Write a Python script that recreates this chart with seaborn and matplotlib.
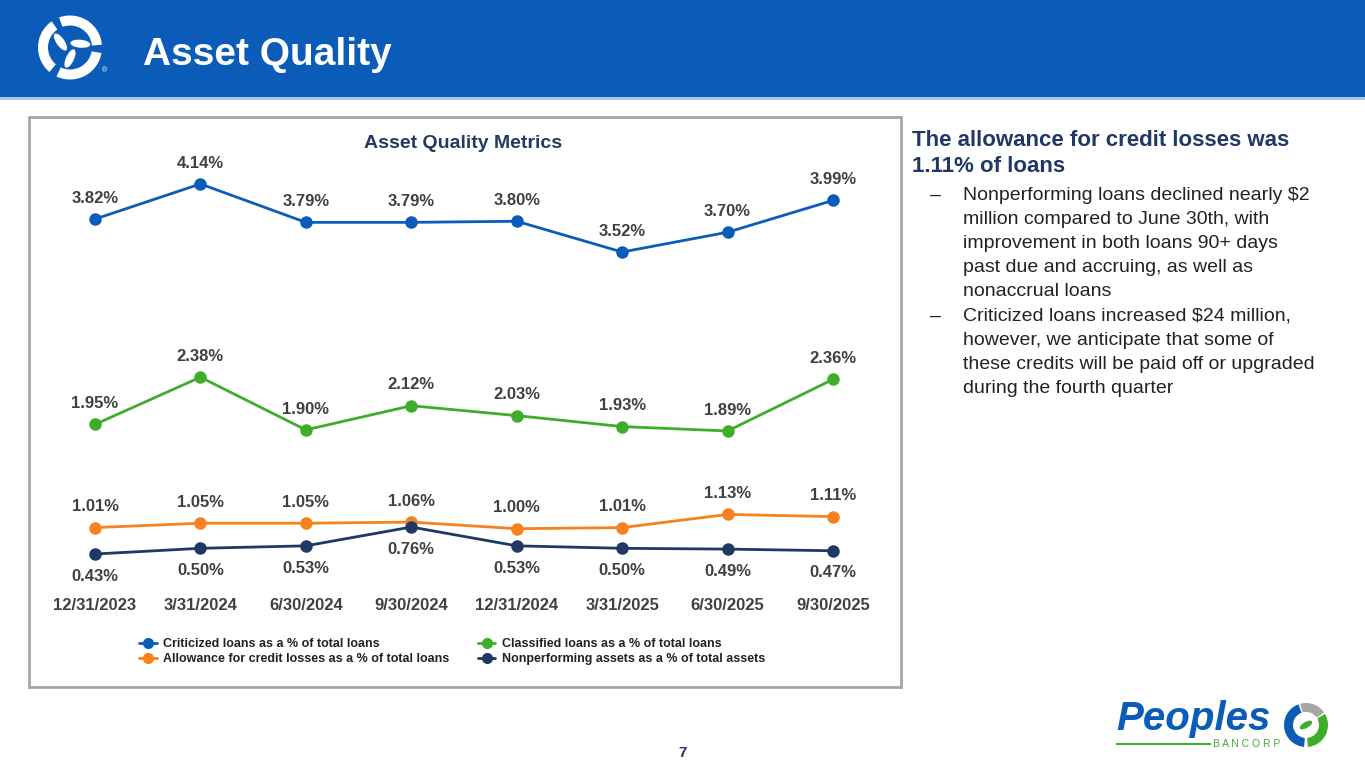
import numpy as np
import pandas as pd
import matplotlib
matplotlib.use("Agg")
import matplotlib.pyplot as plt
import matplotlib.patches as mpatches
from matplotlib.lines import Line2D
import seaborn as sns

# ----------------------------
# Data
# ----------------------------
quarters = ["12/31/2023", "3/31/2024", "6/30/2024", "9/30/2024",
            "12/31/2024", "3/31/2025", "6/30/2025", "9/30/2025"]
criticized = [3.82, 4.14, 3.79, 3.79, 3.80, 3.52, 3.70, 3.99]
classified = [1.95, 2.38, 1.90, 2.12, 2.03, 1.93, 1.89, 2.36]
allowance = [1.01, 1.05, 1.05, 1.06, 1.00, 1.01, 1.13, 1.11]
nonperforming = [0.43, 0.50, 0.53, 0.76, 0.53, 0.50, 0.49, 0.47]

series_names = ["Criticized loans as a % of total loans",
                "Classified loans as a % of total loans",
                "Allowance for credit losses as a % of total loans",
                "Nonperforming assets as a % of total assets"]
series_colors = ["#0A5CBA", "#3EAD2C", "#F5821F", "#1F3864"]

heading = ["The allowance for credit losses was", "1.11% of loans"]
bullets = [["Nonperforming loans declined nearly $2",
            "million compared to June 30th, with",
            "improvement in both loans 90+ days",
            "past due and accruing, as well as",
            "nonaccrual loans"],
           ["Criticized loans increased $24 million,",
            "however, we anticipate that some of",
            "these credits will be paid off or upgraded",
            "during the fourth quarter"]]

# ----------------------------
# Style
# ----------------------------
sns.set_theme(style="white")
plt.rcParams['font.family'] = ['Liberation Sans', 'DejaVu Sans']

W, H = 1365, 768
fig = plt.figure(figsize=(W / 100, H / 100), dpi=100)
fig.patch.set_facecolor("white")

# background axes in pixel coordinates
bg = fig.add_axes([0, 0, 1, 1])
bg.set_xlim(0, W)
bg.set_ylim(H, 0)
bg.axis("off")

# header band
bg.add_patch(mpatches.Rectangle((0, 0), W, 97, color="#0A5CB8", lw=0))
bg.add_patch(mpatches.Rectangle((0, 97), W, 3, color="#A8C6E6", lw=0))
bg.text(143, 55, "Asset Quality", color="white", fontsize=28,
        fontweight="bold", va="center", ha="left")

# top-left logo (approximation: three ring segments + three leaves)
cx0, cy0 = 70, 47.5
for start in [10, 130, 250]:
    bg.add_patch(mpatches.Wedge((cx0, cy0), 32, start, start + 105, width=10,
                                color="white", lw=0))
for ang in [150, 270, 20]:
    r = np.deg2rad(ang)
    cx, cy = cx0 + 11 * np.cos(r), cy0 - 11 * np.sin(r)
    bg.add_patch(mpatches.Ellipse((cx, cy), 20, 8, angle=-ang + 25,
                                  color="white", lw=0))
bg.text(105, 71, "®", color="white", fontsize=5, ha="center", va="center")

# chart frame
bg.add_patch(mpatches.Rectangle((29, 117), 872, 570, fill=False,
                                 edgecolor="#A6A6A6", lw=2))
bg.text(463, 143, "Asset Quality Metrics", color="#243A5E", fontsize=14,
        fontweight="bold", ha="center", va="center")

# ----------------------------
# Chart
# ----------------------------
left, right, top, bottom = 60, 870, 150, 590
ax = fig.add_axes([left / W, 1 - bottom / H, (right - left) / W, (bottom - top) / H])
ax.patch.set_alpha(0)
ax2 = ax.twinx()

pos = np.arange(len(quarters))
df = pd.DataFrame({"pos": np.tile(pos, 3),
                   "value": criticized + classified + allowance,
                   "series": np.repeat(series_names[:3], len(quarters))})
df_npa = pd.DataFrame({"pos": pos, "value": nonperforming})

sns.lineplot(data=df, x="pos", y="value", hue="series",
             palette=dict(zip(series_names[:3], series_colors[:3])),
             marker="o", markersize=9, markeredgewidth=0, linewidth=2,
             ax=ax, legend=False)
sns.lineplot(data=df_npa, x="pos", y="value", color=series_colors[3],
             marker="o", markersize=9, markeredgewidth=0, linewidth=2,
             ax=ax2, legend=False)

label_kw = dict(fontsize=12, fontweight="bold", color="#404040",
                ha="center", va="center", textcoords="offset points")
for vals in [criticized, classified, allowance]:
    for x, v in zip(pos, vals):
        ax.annotate(f"{v:.2f}%", (x, v), xytext=(0, 15), **label_kw)
for x, v in zip(pos, nonperforming):
    ax2.annotate(f"{v:.2f}%", (x, v), xytext=(0, -16), **label_kw)

ax.set_xlim(-0.332, 7.351)
ax.set_ylim(0.4417, 4.449)
ax2.set_ylim(-0.0098, 5.369)
for a in (ax, ax2):
    a.set_yticks([])
    a.set_ylabel("")
    a.set_xlabel("")
    for s in a.spines.values():
        s.set_visible(False)
ax.set_xticks(pos)
ax.set_xticklabels(quarters, fontsize=12, fontweight="bold", color="#404040")
ax.tick_params(axis="x", length=0, pad=6)

handles = [Line2D([], [], color=c, marker="o", markersize=8, lw=2,
                  markeredgewidth=0) for c in series_colors]
order = [0, 2, 1, 3]
leg = fig.legend([handles[i] for i in order], [series_names[i] for i in order],
                 ncol=2, loc="center", bbox_to_anchor=(452 / W, 1 - 651.5 / H),
                 frameon=False, handlelength=1.4, handletextpad=0.5,
                 columnspacing=2.3, labelspacing=0.25,
                 prop={"size": 9, "weight": "bold"})
for t in leg.get_texts():
    t.set_color("#222222")

# ----------------------------
# Right-hand text
# ----------------------------
bg.text(912, 141, heading[0], color="#1F3864", fontsize=16, fontweight="bold",
        va="center", ha="left")
bg.text(912, 167, heading[1], color="#1F3864", fontsize=16, fontweight="bold",
        va="center", ha="left")
y = 195
for lines in bullets:
    bg.text(930, y, "–", color="#222222", fontsize=14, va="center", ha="left")
    for line in lines:
        bg.text(963, y, line, color="#222222", fontsize=14, va="center", ha="left")
        y += 24.2

# page number
bg.text(683, 753, "7", color="#1F3864", fontsize=11, fontweight="bold",
        ha="center", va="center")

# bottom-right logo (approximation)
bg.text(1116, 719, "Peoples", color="#0A5CB8", fontsize=29, fontweight="bold",
        style="italic", ha="left", va="center")
bg.plot([1117, 1210], [744, 744], color="#3EAD2C", lw=1.5)
bg.text(1247, 744, "B A N C O R P", color="#3EAD2C", fontsize=7.5,
        ha="center", va="center")
bg.add_patch(mpatches.Wedge((1306, 725), 22, 95, 250, width=9, color="#0A5CB8", lw=0))
bg.add_patch(mpatches.Wedge((1306, 725), 22, -30, 85, width=9, color="#3EAD2C", lw=0))
bg.add_patch(mpatches.Wedge((1306, 725), 22, 255, 325, width=9, color="#A6A6A6", lw=0))
bg.add_patch(mpatches.Ellipse((1306, 725), 14, 6, angle=-30, color="#3EAD2C", lw=0))

fig.savefig("out.png", dpi=100, facecolor="white")
